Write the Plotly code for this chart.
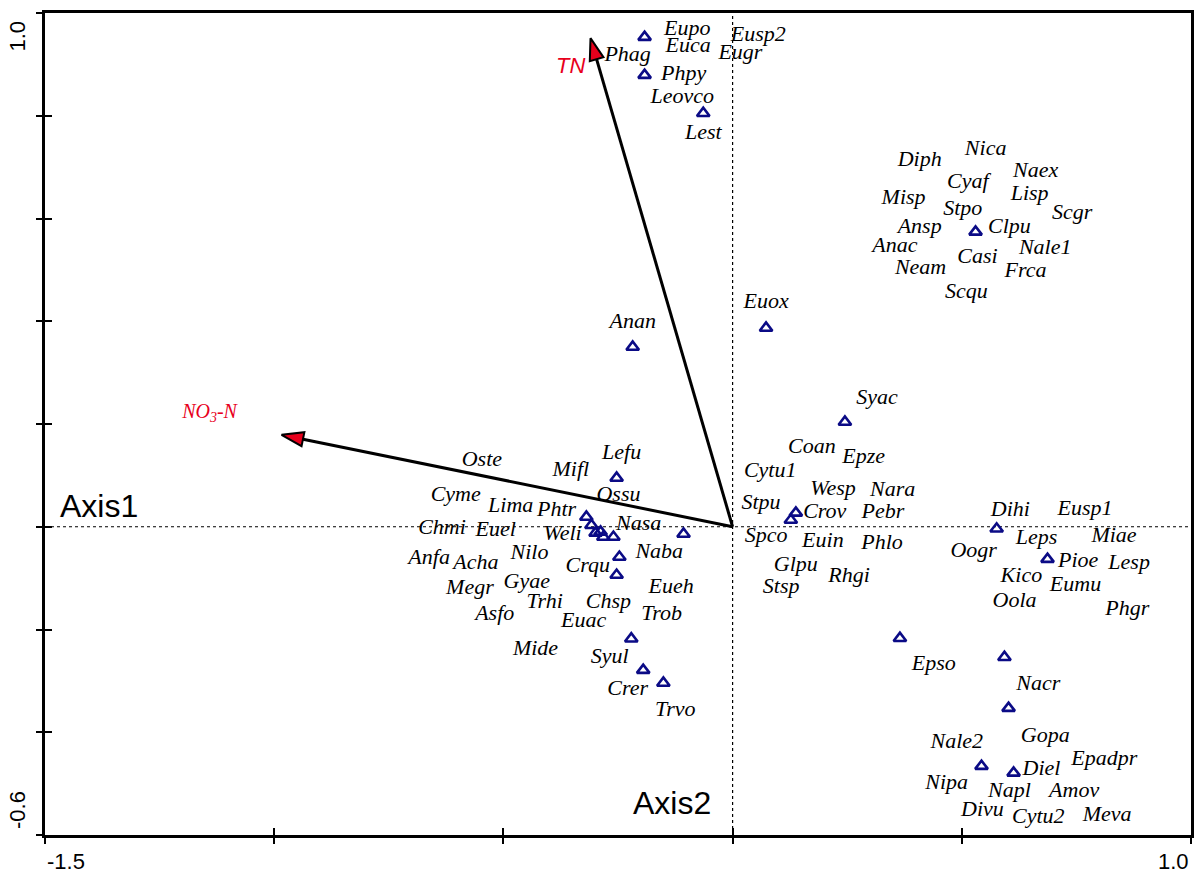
import plotly.graph_objects as go

# ---------------- data ----------------
species = ["Eupo", "Euca", "Eusp2", "Eugr", "Phag", "Phpy", "Leovco", "Lest",
           "Nica", "Diph", "Naex", "Cyaf", "Misp", "Lisp", "Stpo", "Scgr", "Ansp", "Clpu",
           "Anac", "Nale1", "Casi", "Neam", "Frca", "Scqu",
           "Euox", "Anan", "Syac", "Coan", "Epze", "Lefu", "Cytu1", "Oste", "Mifl", "Ossu",
           "Cyme", "Lima", "Phtr", "Nasa", "Chmi", "Euel", "Weli", "Naba", "Anfa", "Acha",
           "Nilo", "Crqu", "Gyae", "Megr", "Eueh", "Trhi", "Chsp", "Asfo", "Trob", "Euac",
           "Mide", "Syul", "Crer", "Trvo",
           "Wesp", "Nara", "Stpu", "Crov", "Pebr", "Spco", "Euin", "Phlo", "Glpu", "Rhgi", "Stsp",
           "Dihi", "Eusp1", "Leps", "Miae", "Oogr", "Pioe", "Lesp", "Kico", "Eumu", "Oola", "Phgr",
           "Epso", "Nacr", "Nale2", "Gopa", "Epadpr", "Diel", "Nipa", "Napl", "Amov", "Divu",
           "Cytu2", "Meva"]
species_x = [-0.099, -0.097, 0.056, 0.017, -0.229, -0.107, -0.110, -0.064,
             0.552, 0.408, 0.661, 0.513, 0.373, 0.648, 0.502, 0.741, 0.408, 0.604,
             0.354, 0.682, 0.534, 0.410, 0.639, 0.510,
             0.073, -0.218, 0.315, 0.173, 0.286, -0.242, 0.082, -0.547, -0.353, -0.249,
             -0.604, -0.484, -0.384, -0.205, -0.634, -0.517, -0.371, -0.160, -0.662, -0.560,
             -0.443, -0.316, -0.449, -0.573, -0.134, -0.410, -0.271, -0.519, -0.155, -0.325,
             -0.430, -0.268, -0.229, -0.125,
             0.219, 0.349, 0.062, 0.201, 0.328, 0.073, 0.197, 0.326, 0.138, 0.254, 0.106,
             0.606, 0.769, 0.663, 0.832, 0.526, 0.754, 0.865, 0.630, 0.748, 0.615, 0.861,
             0.439, 0.667, 0.489, 0.682, 0.811, 0.674, 0.467, 0.604, 0.745, 0.545,
             0.667, 0.817]
species_y = [0.967, 0.934, 0.957, 0.922, 0.918, 0.881, 0.835, 0.766,
             0.735, 0.712, 0.692, 0.671, 0.638, 0.646, 0.617, 0.609, 0.582, 0.582,
             0.545, 0.541, 0.525, 0.502, 0.496, 0.455,
             0.437, 0.397, 0.249, 0.155, 0.134, 0.142, 0.107, 0.128, 0.110, 0.060,
             0.060, 0.040, 0.031, 0.005, -0.004, -0.008, -0.016, -0.051, -0.061, -0.071,
             -0.053, -0.078, -0.108, -0.121, -0.119, -0.148, -0.148, -0.170, -0.170, -0.185,
             -0.238, -0.255, -0.316, -0.357,
             0.072, 0.070, 0.046, 0.027, 0.027, -0.018, -0.028, -0.032, -0.076, -0.096, -0.119,
             0.031, 0.033, -0.022, -0.018, -0.049, -0.067, -0.071, -0.096, -0.115, -0.146, -0.162,
             -0.269, -0.308, -0.419, -0.409, -0.454, -0.473, -0.499, -0.516, -0.516, -0.553,
             -0.565, -0.563]

sample_x = [-0.192, -0.192, -0.064, 0.530, 0.073, -0.218, 0.245, -0.253,
            -0.319, -0.308, -0.299, -0.288, -0.282, -0.260, -0.107, -0.247, -0.253,
            -0.221, -0.195, -0.151, 0.138, 0.127, 0.576, 0.687, 0.365, 0.593, 0.602,
            0.543, 0.613]
sample_y = [0.953, 0.879, 0.805, 0.574, 0.387, 0.350, 0.204, 0.095,
            0.019, 0.003, -0.012, -0.010, -0.020, -0.020, -0.014, -0.059, -0.094,
            -0.218, -0.279, -0.304, 0.027, 0.013, -0.004, -0.063, -0.217, -0.254, -0.353,
            -0.466, -0.479]

env_names = ["TN", "NO<sub>3</sub>-N"]
env_x = [-0.310, -0.984]
env_y = [0.951, 0.179]
env_label_x = [-0.353, -1.141]
env_label_y = [0.893, 0.221]

x_ticks = [-1.5, -1.0, -0.5, 0.0, 0.5, 1.0]
y_ticks = [-0.6, -0.4, -0.2, 0.0, 0.2, 0.4, 0.6, 0.8, 1.0]
x_range = [-1.5, 1.0]
y_range = [-0.6, 1.0]

NAVY = "#0B0B86"
RED = "#E8001C"

fig = go.Figure()

# environmental arrows
for ex, ey in zip(env_x, env_y):
    fig.add_trace(go.Scatter(
        x=[0, ex], y=[0, ey], mode="lines+markers",
        line=dict(color="black", width=3),
        marker=dict(symbol="arrow", size=[0, 23], angleref="previous", opacity=1,
                    color=RED, line=dict(color="black", width=2)),
        hoverinfo="skip", showlegend=False))

# samples (triangles)
fig.add_trace(go.Scatter(
    x=sample_x, y=sample_y, mode="markers",
    marker=dict(symbol="triangle-up-open", size=11, color=NAVY, line=dict(width=2.6, color=NAVY)),
    showlegend=False))

# species labels
fig.add_trace(go.Scatter(
    x=species_x, y=species_y, mode="text", text=species,
    textposition="middle center",
    textfont=dict(family="Liberation Serif", size=22, color="black", style="italic"),
    showlegend=False))

# environmental labels
fig.add_trace(go.Scatter(
    x=env_label_x[:1], y=env_label_y[:1], mode="text", text=env_names[:1],
    textfont=dict(family="Liberation Sans", size=22, color=RED, style="italic"),
    showlegend=False))
fig.add_trace(go.Scatter(
    x=env_label_x[1:], y=env_label_y[1:], mode="text", text=env_names[1:],
    textfont=dict(family="Liberation Serif", size=20, color=RED, style="italic"),
    showlegend=False))

# invisible trace for the overlay axes
fig.add_trace(go.Scatter(x=[0], y=[0], xaxis="x2", yaxis="y2", mode="markers",
                         marker=dict(opacity=0, size=1), hoverinfo="skip", showlegend=False))

# dotted zero lines
fig.add_shape(type="line", xref="x", yref="paper", x0=0, x1=0, y0=0, y1=1,
              line=dict(color="black", width=1.2, dash="dot"), layer="below")
fig.add_shape(type="line", xref="paper", yref="y", x0=0, x1=1, y0=0, y1=0,
              line=dict(color="black", width=1.2, dash="dot"), layer="below")

tick_font = dict(family="Liberation Sans", size=22, color="black")
annotations = [
    dict(text="-1.5", x=x_ticks[0], xref="x", xanchor="left", y=0, yref="paper",
         yanchor="top", yshift=-12, showarrow=False, font=tick_font),
    dict(text="1.0", x=x_ticks[-1], xref="x", xanchor="right", y=0, yref="paper",
         yanchor="top", yshift=-12, showarrow=False, font=tick_font),
    dict(text="1.0", x=0, xref="paper", xanchor="center", xshift=-28, y=y_ticks[-1], yref="y",
         yanchor="top", yshift=-6, textangle=-90, showarrow=False, font=tick_font),
    dict(text="-0.6", x=0, xref="paper", xanchor="center", xshift=-28, y=y_ticks[0], yref="y",
         yanchor="bottom", yshift=4, textangle=-90, showarrow=False, font=tick_font),
    dict(text="Axis1", x=0.0113, xref="paper", xanchor="left", y=0.40, yref="paper",
         yanchor="middle", showarrow=False,
         font=dict(family="Liberation Sans", size=32, color="black")),
    dict(text="Axis2", x=0.547, xref="paper", xanchor="center", y=0.039, yref="paper",
         yanchor="middle", showarrow=False,
         font=dict(family="Liberation Sans", size=32, color="black")),
]

fig.update_layout(
    width=1198, height=873,
    margin=dict(l=45, r=4, t=13, b=38),
    paper_bgcolor="white", plot_bgcolor="white",
    xaxis=dict(range=x_range, tickvals=x_ticks, showticklabels=False, ticks="outside",
               ticklen=6, tickwidth=2, tickcolor="black", showgrid=False, zeroline=False,
               showline=True, linecolor="black", linewidth=2.5, mirror=True),
    yaxis=dict(range=y_range, tickvals=y_ticks, showticklabels=False, ticks="outside",
               ticklen=6, tickwidth=2, tickcolor="black", showgrid=False, zeroline=False,
               showline=True, linecolor="black", linewidth=2.5, mirror=True),
    xaxis2=dict(range=x_range, tickvals=x_ticks, showticklabels=False, ticks="inside",
                ticklen=7, tickwidth=2, tickcolor="black", showgrid=False, zeroline=False,
                showline=False, overlaying="x", side="bottom", anchor="y"),
    yaxis2=dict(range=y_range, tickvals=y_ticks, showticklabels=False, ticks="inside",
                ticklen=7, tickwidth=2, tickcolor="black", showgrid=False, zeroline=False,
                showline=False, overlaying="y", side="left", anchor="x"),
    annotations=annotations,
)

fig.write_html("out.html", config={"displayModeBar": False},
               post_script="document.body.style.margin='0';document.body.style.overflow='hidden';")
